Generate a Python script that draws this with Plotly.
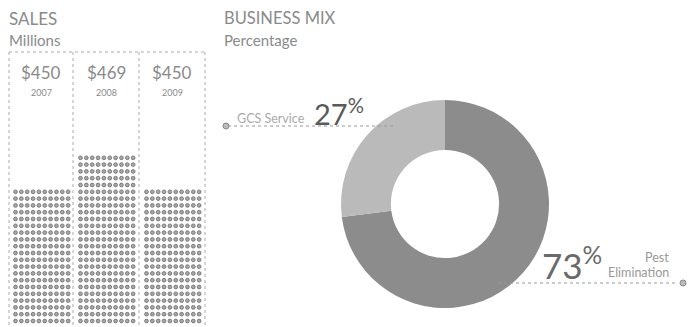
import plotly.graph_objects as go

# ---- data ----
years = ["2007", "2008", "2009"]
sales = [450, 469, 450]
dot_rows = [20, 25, 20]          # visible rows of dots per column
dots_per_row = 10
mix_labels = ["Pest Elimination", "GCS Service"]
mix_values = [73, 27]

W, H = 688, 327
fig = go.Figure()

# ---- dot grids (sales columns) ----
col_left = [15.5, 80.5, 146.5]
dx, dy = 5.85, 6.8
bottom = 321
xs, ys = [], []
for i, n in enumerate(dot_rows):
    for r in range(n):
        for c in range(dots_per_row):
            xs.append(col_left[i] + c * dx)
            ys.append(bottom - r * dy)
fig.add_trace(go.Scatter(x=xs, y=ys, mode="markers", hoverinfo="skip",
                         marker=dict(size=3.8, color="#a8a8a8",
                                     line=dict(width=0.7, color="#606060")),
                         showlegend=False))

# ---- box borders ----
border = dict(color="#ababab", width=1, dash="dot")
fig.add_shape(type="line", x0=9, x1=205, y0=52, y1=52, line=border)
for xv in [9, 73, 139, 205]:
    fig.add_shape(type="line", x0=xv, x1=xv, y0=52, y1=H, line=border)

font_fam = "Lato, Open Sans, sans-serif"
centers = [41, 106, 172]
for i in range(3):
    fig.add_annotation(x=centers[i], y=72, text=f"${sales[i]}", showarrow=False,
                       font=dict(family=font_fam, size=17, color="#8a8a8a"),
                       xanchor="center", yanchor="middle")
    fig.add_annotation(x=centers[i], y=92, text=years[i], showarrow=False,
                       font=dict(family=font_fam, size=9, color="#8a8a8a"),
                       xanchor="center", yanchor="middle")

# ---- titles ----
for x0, t, s, ts in [(222, "BUSINESS MIX", "Percentage", 16.5), (7, "SALES", "Millions", 17)]:
    fig.add_annotation(x=x0, y=18, text=t, showarrow=False,
                       font=dict(family=font_fam, size=ts, color="#8a8a8a"),
                       xanchor="left", yanchor="middle")
    fig.add_annotation(x=x0, y=40, text=s, showarrow=False,
                       font=dict(family=font_fam, size=15, color="#8a8a8a"),
                       xanchor="left", yanchor="middle")

# ---- donut ----
cx, cy, R = 445, 204, 104
fig.add_trace(go.Pie(labels=mix_labels, values=mix_values, hole=0.52,
                     sort=False, direction="clockwise", rotation=0,
                     marker=dict(colors=["#8c8c8c", "#bababa"],
                                 line=dict(width=0)),
                     textinfo="none", hoverinfo="label+percent",
                     showlegend=False,
                     domain=dict(x=[(cx - R) / W, (cx + R) / W],
                                 y=[1 - (cy + R) / H, 1 - (cy - R) / H])))

# ---- callouts ----
lead = dict(color="#999", width=1, dash="dot")
fig.add_shape(type="line", x0=228, x1=395, y0=126, y1=126, line=lead)
fig.add_shape(type="circle", x0=223, x1=229, y0=123, y1=129,
              line=dict(color="#888", width=1), fillcolor="#bbb")
fig.add_annotation(x=307, y=118, text="GCS Service", showarrow=False,
                   font=dict(family=font_fam, size=12.5, color="#aaaaaa"),
                   xanchor="right", yanchor="middle")
fig.add_annotation(x=312, y=112, text=f"{mix_values[1]}<sup>%</sup>", showarrow=False,
                   font=dict(family=font_fam, size=29, color="#5a5a5a"),
                   xanchor="left", yanchor="middle")

fig.add_shape(type="line", x0=498, x1=678, y0=283, y1=283, line=lead)
fig.add_shape(type="circle", x0=680, x1=686, y0=280, y1=286,
              line=dict(color="#888", width=1), fillcolor="#bbb")
fig.add_annotation(x=540, y=263, text=f"{mix_values[0]}<sup>%</sup>", showarrow=False,
                   font=dict(family=font_fam, size=35, color="#6a6a6a"),
                   xanchor="left", yanchor="middle")
fig.add_annotation(x=671, y=257, text="Pest", showarrow=False,
                   font=dict(family=font_fam, size=12.5, color="#999"),
                   xanchor="right", yanchor="middle")
fig.add_annotation(x=671, y=272, text="Elimination", showarrow=False,
                   font=dict(family=font_fam, size=12.5, color="#999"),
                   xanchor="right", yanchor="middle")

fig.update_layout(width=W, height=H, margin=dict(l=0, r=0, t=0, b=0),
                  paper_bgcolor="white", plot_bgcolor="white",
                  xaxis=dict(range=[0, W], visible=False, fixedrange=True),
                  yaxis=dict(range=[H, 0], visible=False, fixedrange=True),
                  )
fig.write_html("out.html")
